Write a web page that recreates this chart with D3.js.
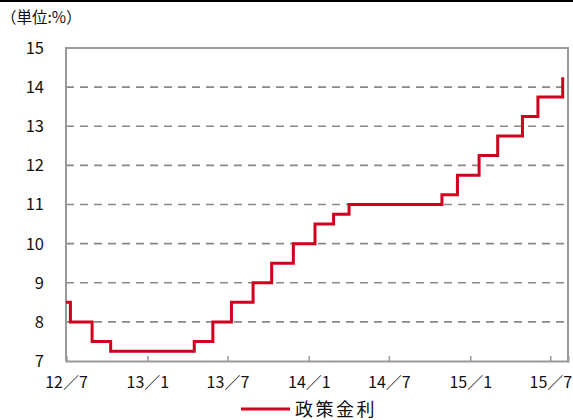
<!DOCTYPE html>
<html>
<head>
<meta charset="utf-8">
<title>政策金利</title>
<script src="https://cdn.jsdelivr.net/npm/d3@7"></script>
<style>
	body { margin: 0; background: #fff; }
	text { font-family: "Noto Sans CJK JP", "Noto Sans", sans-serif; fill: #111; }
</style>
</head>
<body>
<svg width="573" height="420"></svg>
<script>
	// 政策金利の変更日と水準
	var dates = ["2012-07-01", "2012-07-11", "2012-08-29", "2012-10-10", "2013-04-17", "2013-05-29",
		"2013-07-10", "2013-08-28", "2013-10-09", "2013-11-27", "2014-01-15", "2014-02-26",
		"2014-04-02", "2014-10-29", "2014-12-03", "2015-01-21", "2015-03-04", "2015-04-29",
		"2015-06-03", "2015-07-29"];
	var rates = [8.5, 8.0, 7.5, 7.25, 7.5, 8.0, 8.5, 9.0, 9.5, 10.0, 10.5, 10.75,
		11.0, 11.25, 11.75, 12.25, 12.75, 13.25, 13.75, 14.25];
	var yTicks = [7, 8, 9, 10, 11, 12, 13, 14, 15];
	var xTicks = ["2012-07-01", "2013-01-01", "2013-07-01", "2014-01-01", "2014-07-01", "2015-01-01", "2015-07-01"];
	var xLabels = ["12／7", "13／1", "13／7", "14／1", "14／7", "15／1", "15／7"];

	var parse = d3.timeParse("%Y-%m-%d");
	var svg = d3.select("svg"),
		mLeft = 66, mRight = 568, mTop = 48, mBottom = 361;

	var x = d3.scaleTime()
		.domain([parse("2012-07-01"), parse("2015-08-10")])
		.range([mLeft, mRight]);
	var y = d3.scaleLinear().domain([7, 15]).range([mBottom, mTop]);

	// 上端の黒線
	svg.append("line").attr("x1", 0).attr("x2", 573).attr("y1", 1).attr("y2", 1)
		.attr("stroke", "#000").attr("stroke-width", 2);

	svg.append("text").attr("x", 1).attr("y", 23)
		.style("font-size", "15.5px").text("（単位:%）");

	// 目盛り線（破線）
	svg.append("g").selectAll("line").data(yTicks.slice(1, -1)).enter().append("line")
		.attr("x1", mLeft).attr("x2", mRight)
		.attr("y1", function (d) { return y(d); }).attr("y2", function (d) { return y(d); })
		.attr("stroke", "#888").attr("stroke-width", 1.6)
		.attr("stroke-dasharray", "8,6");

	// 枠
	svg.append("path")
		.attr("d", "M" + mLeft + "," + mBottom + "V" + mTop + "H" + mRight + "V" + mBottom)
		.attr("fill", "none").attr("stroke", "#999").attr("stroke-width", 2);

	// x軸
	var xAxis = d3.axisBottom(x)
		.tickValues(xTicks.map(parse))
		.tickSize(-5)
		.tickFormat(function (d, i) { return xLabels[i]; });
	var gx = svg.append("g").attr("transform", "translate(0," + mBottom + ")").call(xAxis);
	gx.select(".domain").attr("stroke", "#999").attr("stroke-width", 2);
	gx.selectAll(".tick line").attr("stroke", "#999").attr("stroke-width", 1.5);
	gx.selectAll(".tick text").attr("y", 21).attr("dy", "0.36em")
		.style("font-size", "16px").style("font-family", "'Noto Sans CJK JP', sans-serif").attr("fill", "#111");

	// y軸ラベル
	svg.append("g").selectAll("text").data(yTicks).enter().append("text")
		.attr("x", 44).attr("y", function (d) { return y(d); })
		.attr("dy", "0.36em").attr("text-anchor", "end")
		.style("font-size", "16.5px").text(function (d) { return d; });

	// 政策金利
	var pts = dates.map(function (d, i) { return [parse(d), rates[i]]; });
	var line = d3.line()
		.x(function (d) { return x(d[0]); })
		.y(function (d) { return y(d[1]); })
		.curve(d3.curveStepAfter);
	svg.append("path").datum(pts)
		.attr("d", line)
		.attr("fill", "none").attr("stroke", "#d0021f").attr("stroke-width", 3);

	// 凡例
	svg.append("line").attr("x1", 241).attr("x2", 290).attr("y1", 409).attr("y2", 409)
		.attr("stroke", "#d0021f").attr("stroke-width", 3);
	svg.append("text").attr("x", 295).attr("y", 410).attr("dy", "0.36em")
		.style("font-size", "18px").style("letter-spacing", "2.5px").text("政策金利");
</script>
</body>
</html>
